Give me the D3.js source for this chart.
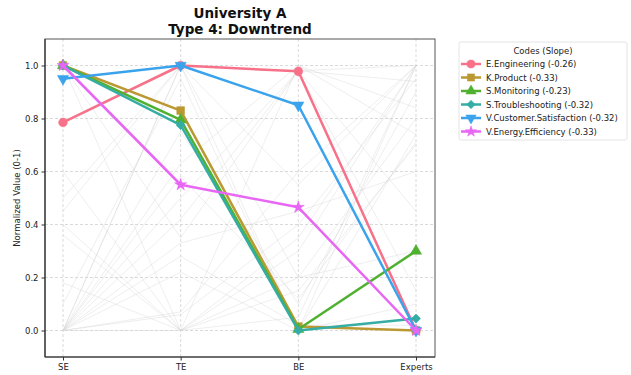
<!DOCTYPE html>
<html><head><meta charset="utf-8">
<script src="https://cdn.jsdelivr.net/npm/d3@7"></script>
<style>body{margin:0;background:#fff;font-family:"DejaVu Sans",sans-serif;}</style>
</head><body><svg id="c" width="631" height="375"></svg>
<script>
const stages = ["SE","TE","BE","Experts"];
const seriesNames = ["E.Engineering (-0.26)","K.Product (-0.33)","S.Monitoring (-0.23)","S.Troubleshooting (-0.32)","V.Customer.Satisfaction (-0.32)","V.Energy.Efficiency (-0.33)"];
const seriesValues = [
  [0.785, 1.0, 0.978, 0.0],
  [1.0, 0.83, 0.015, 0.0],
  [1.0, 0.795, 0.005, 0.30],
  [1.0, 0.775, 0.0, 0.045],
  [0.95, 1.0, 0.85, 0.0],
  [1.0, 0.55, 0.465, 0.0]
];
const seriesColors = ["#f77189","#bb9832","#50b131","#36ada4","#3ba3ec","#e866f4"];
const seriesMarkers = ["circle","square","triangle","diamond","triangledown","star"];
const backgroundValues = [
  [0, 1.0, 0.98, 1.0],
  [0, 0.06, 0.40, 0.95],
  [0.40, 0, 0.30, 1.0],
  [0.18, 0, 0.20, 0.80],
  [0, 0.63, 1.0, 0.84],
  [0, 0.50, 0.98, 0.45],
  [0, 0.33, 0.45, 0.60],
  [0, 0.22, 0, 0.74],
  [0.50, 1.0, 0.20, 0.30],
  [1.0, 0, 0.35, 1.0],
  [0.36, 0, 0.15, 0.70],
  [0, 0.07, 0.60, 1.0],
  [0.45, 1.0, 0, 0.10],
  [0, 0.42, 0.98, 0.94],
  [0, 0, 0.05, 1.0],
  [0.10, 0.95, 0, 1.0],
  [0, 1.0, 0.55, 1.0],
  [0.60, 0, 1.0, 0.74],
  [0, 0.75, 0.10, 0.90],
  [0, 0.28, 0.02, 0.02],
  [1.0, 0.35, 0.98, 0.15],
  [0, 0.58, 0.12, 0.71]
];
const yTicks = [0.0,0.2,0.4,0.6,0.8,1.0];
const titleLines = ["University A","Type 4: Downtrend"];

const svg = d3.select("#c");
const m = {l:45, r:435, t:39, b:357};
const x = d3.scalePoint().domain(stages).range([63,416]);
const y = d3.scaleLinear().domain([-0.1,1.1]).range([m.b,m.t]);

const g = svg.append("g");
g.selectAll(".gy").data(yTicks).join("line")
  .attr("x1",m.l).attr("x2",m.r).attr("y1",d=>y(d)).attr("y2",d=>y(d))
  .attr("stroke","#d0d0d0").attr("stroke-width",0.8).attr("stroke-dasharray","3,2");
g.selectAll(".gx").data(stages).join("line")
  .attr("y1",m.t).attr("y2",m.b).attr("x1",d=>x(d)).attr("x2",d=>x(d))
  .attr("stroke","#d0d0d0").attr("stroke-width",0.8).attr("stroke-dasharray","3,2");

const line = d3.line().x((d,i)=>x(stages[i])).y(d=>y(d));
svg.append("g").selectAll("path").data(backgroundValues).join("path")
  .attr("d",line).attr("fill","none").attr("stroke","#d4d4d4").attr("stroke-opacity",0.4).attr("stroke-width",1);

const sym = {circle:d3.symbolCircle,square:d3.symbolSquare,triangle:d3.symbolTriangle,diamond:d3.symbolSquare,triangledown:d3.symbolTriangle,star:d3.symbolStar};
const symSize = {circle:60,square:60,triangle:55,diamond:42,triangledown:55,star:45};
function marker(sel,k,col,cx,cy,s){
  s = s||1;
  const p = sel.append("path").attr("d",d3.symbol().type(sym[k]).size(symSize[k]*s)())
    .attr("fill",col).attr("stroke",col).attr("stroke-width",0.5);
  let tr = `translate(${cx},${cy})`;
  if(k==="triangledown") tr += " rotate(180)";
  if(k==="diamond") tr += " rotate(45)";
  p.attr("transform",tr);
}
seriesValues.forEach((vals,si)=>{
  const col = seriesColors[si];
  svg.append("path").datum(vals).attr("d",line).attr("fill","none")
    .attr("stroke",col).attr("stroke-width",2.5).attr("stroke-linejoin","round");
  const mg = svg.append("g");
  vals.forEach((v,i)=>marker(mg,seriesMarkers[si],col,x(stages[i]),y(v)));
});

svg.append("rect").attr("x",m.l).attr("y",m.t).attr("width",m.r-m.l).attr("height",m.b-m.t)
  .attr("fill","none").attr("stroke","#555").attr("stroke-width",1);
svg.append("line").attr("x1",m.l).attr("x2",m.l).attr("y1",m.t).attr("y2",m.b).attr("stroke","#333").attr("stroke-width",1.2);
svg.append("line").attr("x1",m.l).attr("x2",m.r).attr("y1",m.b).attr("y2",m.b).attr("stroke","#333").attr("stroke-width",1.2);

const ya = svg.append("g").attr("transform",`translate(${m.l},0)`)
  .call(d3.axisLeft(y).tickValues(yTicks).tickFormat(d3.format(".1f")).tickSize(3.5).tickPadding(3));
ya.select(".domain").remove();
ya.selectAll("text").attr("font-size",8.5).attr("fill","#222").attr("font-family","DejaVu Sans");
ya.selectAll("line").attr("stroke","#333");
const xa = svg.append("g").attr("transform",`translate(0,${m.b})`)
  .call(d3.axisBottom(x).tickSize(3.5).tickPadding(3));
xa.select(".domain").remove();
xa.selectAll("text").attr("font-size",8.5).attr("fill","#222").attr("font-family","DejaVu Sans");
xa.selectAll("line").attr("stroke","#333");

svg.append("text").attr("transform",`translate(20,${(m.t+m.b)/2}) rotate(-90)`)
  .attr("text-anchor","middle").attr("font-size",8.5).attr("fill","#222").text("Normalized Value (0-1)");

svg.selectAll(".title").data(titleLines).join("text")
  .attr("x",(m.l+m.r)/2).attr("y",(d,i)=>18+i*16).attr("text-anchor","middle")
  .attr("font-size",13.5).attr("font-weight","bold").attr("fill","#111").text(d=>d);

const lg = svg.append("g");
lg.append("rect").attr("x",459).attr("y",42).attr("width",168).attr("height",98).attr("rx",2)
  .attr("fill","#fff").attr("stroke","#ddd").attr("stroke-width",0.8);
lg.append("text").attr("x",543).attr("y",54).attr("text-anchor","middle").attr("font-size",8.5).attr("fill","#222").text("Codes (Slope)");
seriesNames.forEach((n,i)=>{
  const yy = 64 + i*13.5;
  lg.append("line").attr("x1",461).attr("x2",481).attr("y1",yy).attr("y2",yy)
    .attr("stroke",seriesColors[i]).attr("stroke-width",2.5);
  marker(lg,seriesMarkers[i],seriesColors[i],471,yy,0.85);
  lg.append("text").attr("x",486).attr("y",yy+3.2).attr("font-size",8.5).attr("fill","#222").text(n);
});
</script></body></html>
